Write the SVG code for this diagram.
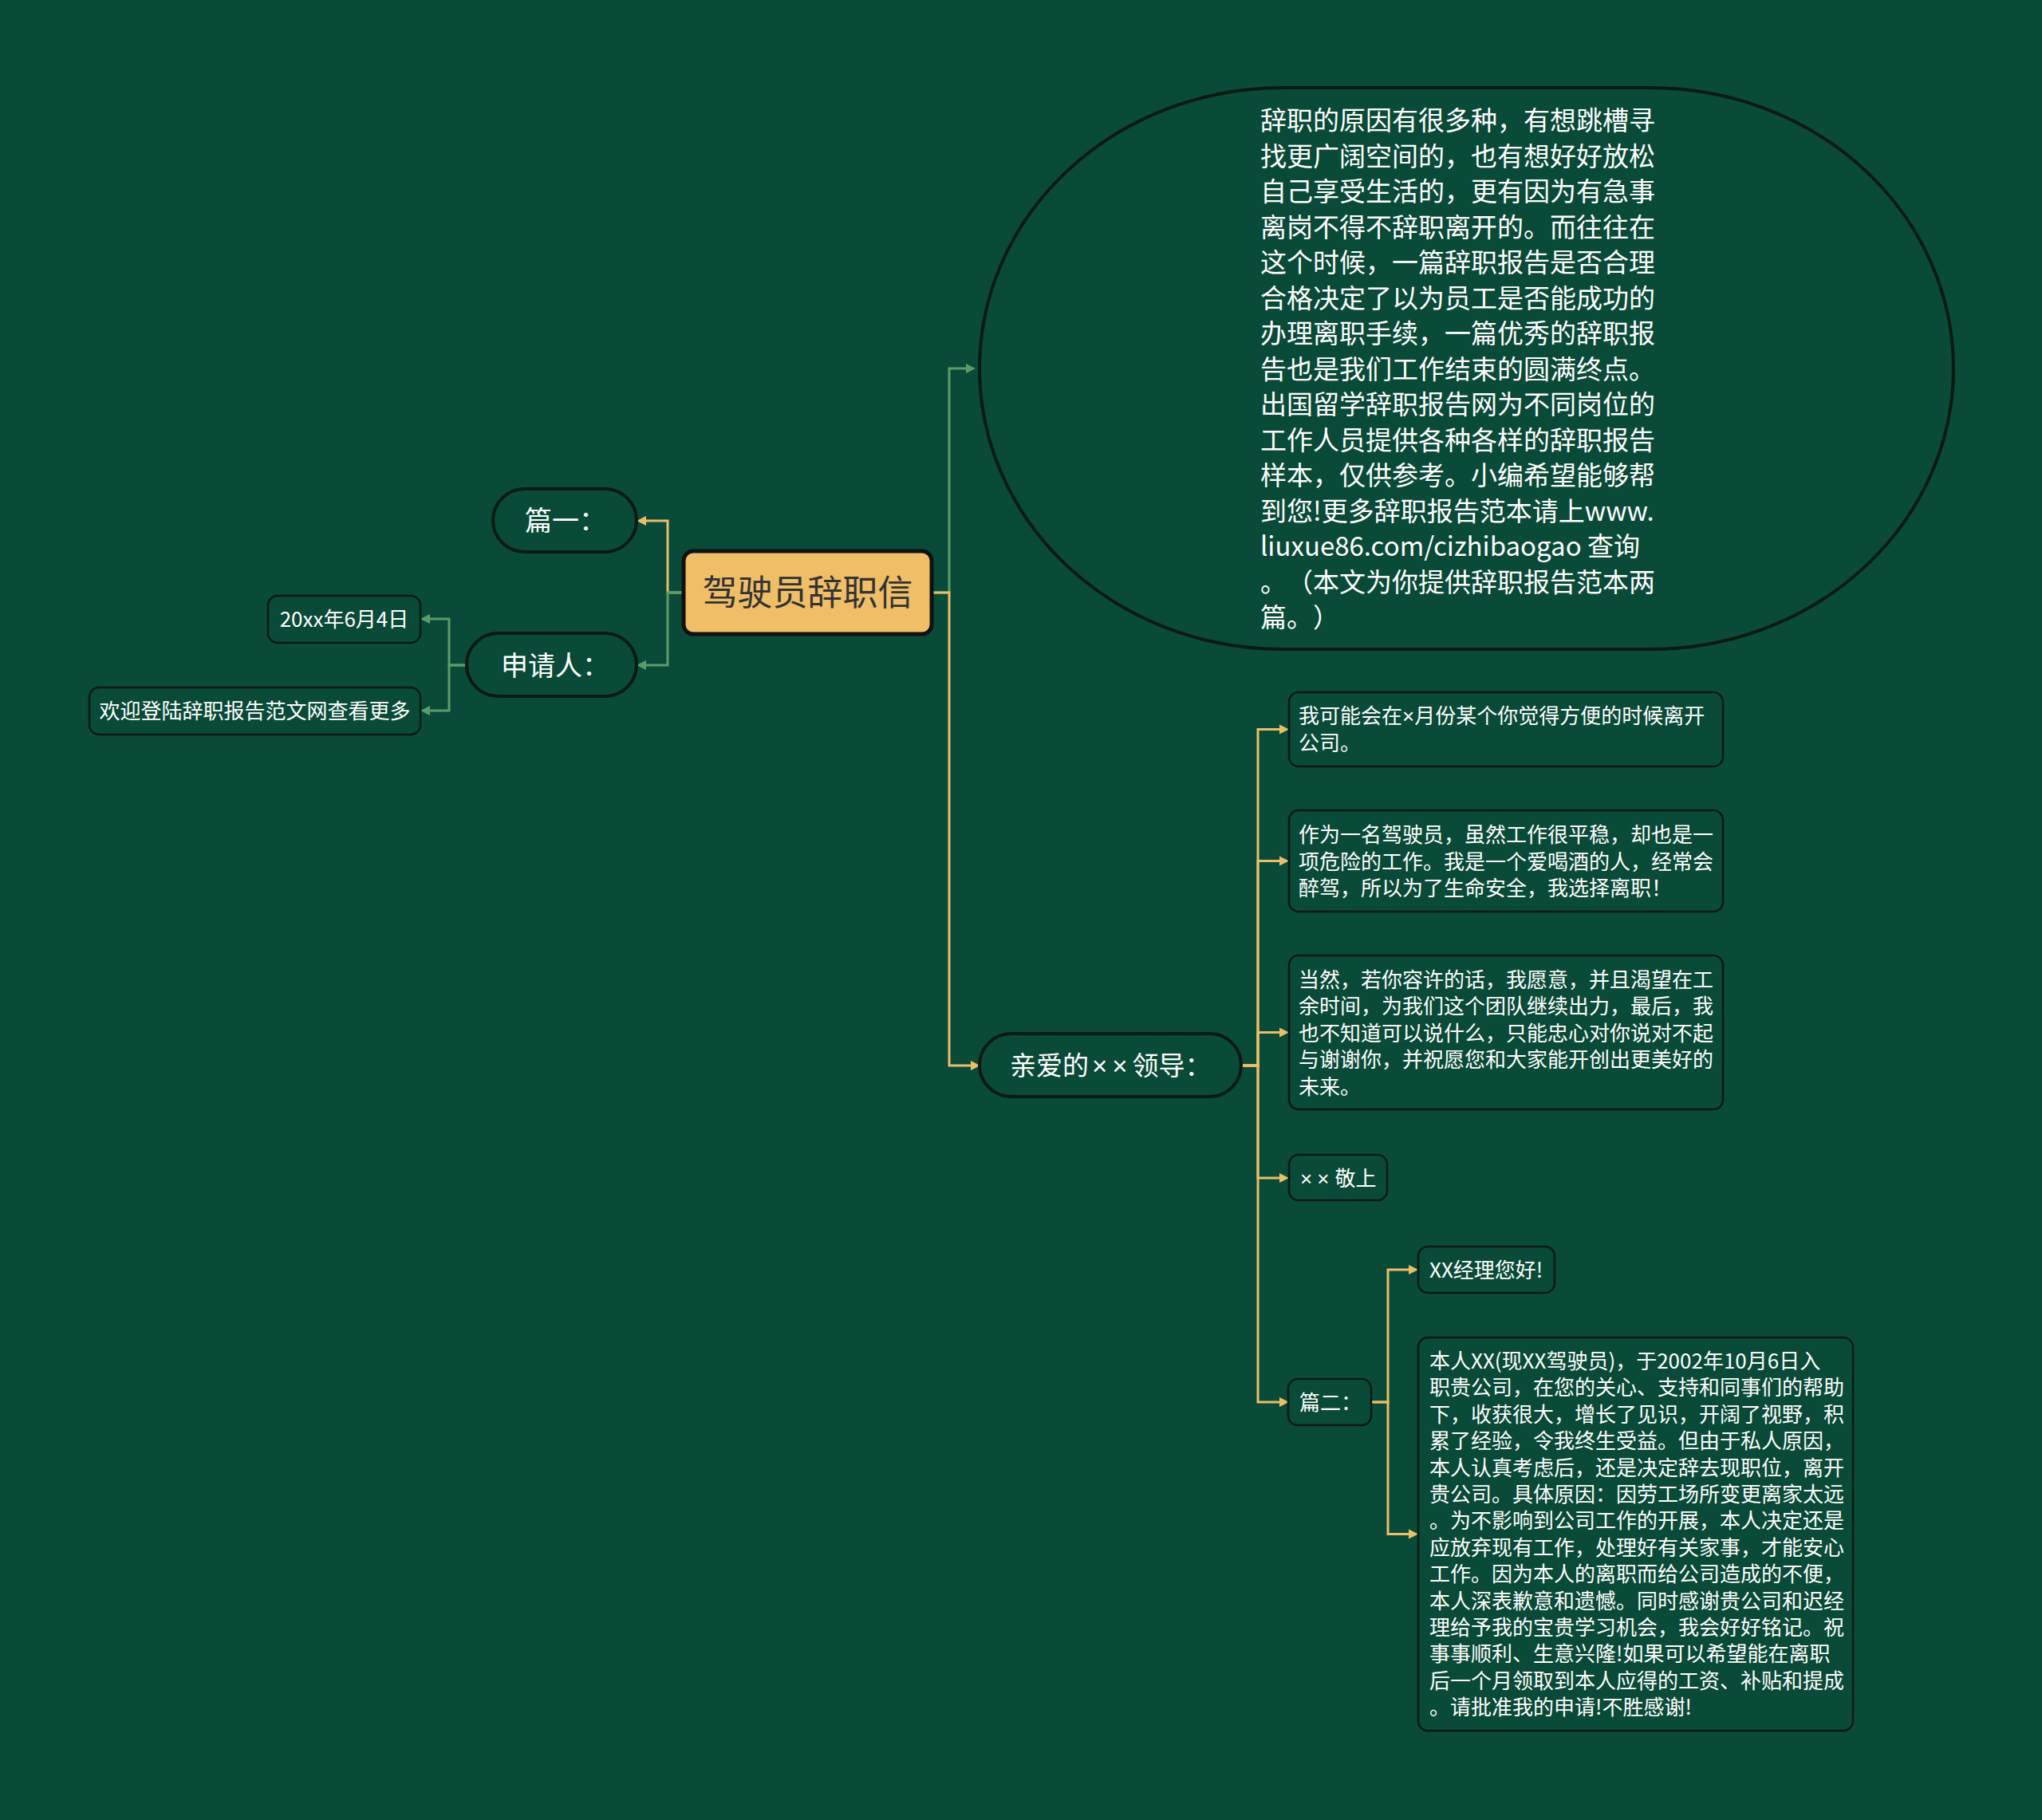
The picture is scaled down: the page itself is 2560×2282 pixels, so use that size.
<svg xmlns="http://www.w3.org/2000/svg" width="2560" height="2282" viewBox="0 0 2560 2282">
<defs>
<style>
.bg{fill:#0A4A38}
.box{fill:#0A4A38;stroke:#0B1A12;stroke-width:2.5}
.pill{fill:#0A4A38;stroke:#0B1A12;stroke-width:4}
.root{fill:#F0BE66;stroke:#111111;stroke-width:5}
.t{font-family:"Noto Sans CJK SC","Noto Sans",sans-serif;fill:#FFFFFF;text-spacing-trim:space-all}
.x{font-family:"Liberation Sans",sans-serif}
.xs{font-family:"Liberation Sans",sans-serif;letter-spacing:6px}
.s26{font-size:26px}
.s33{font-size:33px}
.s34{font-size:34px}
.rt{font-family:"Noto Sans CJK SC","Noto Sans",sans-serif;font-size:44px;fill:#333333}
.cg{fill:none;stroke:#5E9B6A;stroke-width:3}
.cy{fill:none;stroke:#E8BE68;stroke-width:3}
</style>
<marker id="ag" markerUnits="userSpaceOnUse" markerWidth="13" markerHeight="14" refX="0" refY="7" orient="auto" viewBox="0 0 13 14"><path d="M0,1 L12,7 L0,13 z" fill="#5E9B6A"/></marker>
<marker id="ay" markerUnits="userSpaceOnUse" markerWidth="13" markerHeight="14" refX="0" refY="7" orient="auto" viewBox="0 0 13 14"><path d="M0,1 L12,7 L0,13 z" fill="#E8BE68"/></marker>
</defs>
<rect class="bg" x="0" y="0" width="2560" height="2282"/>

<g id="connectors">
<path class="cg" d="M1168,743 H1190 V462 H1211" marker-end="url(#ag)"/>
<path class="cy" d="M1168,743 H1190 V1336 H1217" marker-end="url(#ay)"/>
<path class="cy" d="M857,743 H837 V653 H810" marker-end="url(#ay)"/>
<path class="cg" d="M857,743 H837 V834 H810" marker-end="url(#ag)"/>
<path class="cg" d="M585,834 H563 V776 H539" marker-end="url(#ag)"/>
<path class="cg" d="M585,834 H563 V891 H539" marker-end="url(#ag)"/>
<path class="cy" d="M1556,1336 H1577 V914.5 H1604" marker-end="url(#ay)"/>
<path class="cy" d="M1556,1336 H1577 V1079.5 H1604" marker-end="url(#ay)"/>
<path class="cy" d="M1556,1336 H1577 V1294.5 H1604" marker-end="url(#ay)"/>
<path class="cy" d="M1556,1336 H1577 V1477 H1604" marker-end="url(#ay)"/>
<path class="cy" d="M1556,1336 H1577 V1758 H1604" marker-end="url(#ay)"/>
<path class="cy" d="M1719,1758 H1740 V1592 H1766" marker-end="url(#ay)"/>
<path class="cy" d="M1719,1758 H1740 V1923.5 H1766" marker-end="url(#ay)"/>
</g>

<g id="root">
<rect class="root" x="857" y="691" width="311" height="104" rx="12"/>
<text class="rt" x="1012.5" y="759" text-anchor="middle">驾驶员辞职信</text>
</g>

<g id="intro">
<rect class="pill" x="1228" y="110" width="1221" height="704" rx="380" ry="352"/>
<text class="t s33" x="1580">
<tspan x="1580" y="163">辞职的原因有很多种，有想跳槽寻</tspan>
<tspan x="1580" y="207.5">找更广阔空间的，也有想好好放松</tspan>
<tspan x="1580" y="252">自己享受生活的，更有因为有急事</tspan>
<tspan x="1580" y="296.5">离岗不得不辞职离开的。而往往在</tspan>
<tspan x="1580" y="341">这个时候，一篇辞职报告是否合理</tspan>
<tspan x="1580" y="385.5">合格决定了以为员工是否能成功的</tspan>
<tspan x="1580" y="430">办理离职手续，一篇优秀的辞职报</tspan>
<tspan x="1580" y="474.5">告也是我们工作结束的圆满终点。</tspan>
<tspan x="1580" y="519">出国留学辞职报告网为不同岗位的</tspan>
<tspan x="1580" y="563.5">工作人员提供各种各样的辞职报告</tspan>
<tspan x="1580" y="608">样本，仅供参考。小编希望能够帮</tspan>
<tspan x="1580" y="652.5">到您!更多辞职报告范本请上www.</tspan>
<tspan x="1580" y="697">liuxue86.com/cizhibaogao 查询</tspan>
<tspan x="1580" y="741.5">。（本文为你提供辞职报告范本两</tspan>
<tspan x="1580" y="786">篇。）</tspan>
</text>
</g>

<g id="pian1">
<rect class="pill" x="618" y="613" width="180" height="79" rx="39.5"/>
<text class="t s34" x="658" y="665">篇一：</text>
</g>

<g id="applicant">
<rect class="pill" x="585" y="794" width="213" height="79" rx="39.5"/>
<text class="t s34" x="628" y="847">申请人：</text>
</g>

<g id="date">
<rect class="box" x="336" y="747" width="191" height="59" rx="12"/>
<text class="t s26" x="431.5" y="786" text-anchor="middle">20xx年6月4日</text>
</g>

<g id="welcome">
<rect class="box" x="112" y="862" width="415" height="59" rx="12"/>
<text class="t s26" x="319.5" y="901" text-anchor="middle">欢迎登陆辞职报告范文网查看更多</text>
</g>

<g id="dear">
<rect class="pill" x="1228" y="1296" width="328" height="79" rx="39.5"/>
<text class="t s33" x="1266" y="1348">亲爱的<tspan class="xs" dx="4">××</tspan>领导：</text>
</g>

<g id="c1">
<rect class="box" x="1616" y="868" width="544" height="93" rx="12"/>
<text class="t s26"><tspan x="1628" y="907">我可能会在<tspan class="x">×</tspan>月份某个你觉得方便的时候离开</tspan><tspan x="1628" y="941">公司。</tspan></text>
</g>

<g id="c2">
<rect class="box" x="1616" y="1016" width="544" height="127" rx="12"/>
<text class="t s26"><tspan x="1628" y="1056">作为一名驾驶员，虽然工作很平稳，却也是一</tspan><tspan x="1628" y="1089.5">项危险的工作。我是一个爱喝酒的人，经常会</tspan><tspan x="1628" y="1123">醉驾，所以为了生命安全，我选择离职！</tspan></text>
</g>

<g id="c3">
<rect class="box" x="1616" y="1198" width="544" height="193" rx="12"/>
<text class="t s26"><tspan x="1628" y="1237.5">当然，若你容许的话，我愿意，并且渴望在工</tspan><tspan x="1628" y="1271">余时间，为我们这个团队继续出力，最后，我</tspan><tspan x="1628" y="1304.5">也不知道可以说什么，只能忠心对你说对不起</tspan><tspan x="1628" y="1338">与谢谢你，并祝愿您和大家能开创出更美好的</tspan><tspan x="1628" y="1371.5">未来。</tspan></text>
</g>

<g id="c4">
<rect class="box" x="1616" y="1448" width="123" height="57" rx="12"/>
<text class="t s26" x="1630" y="1487"><tspan class="xs">×</tspan><tspan class="x">× </tspan>敬上</text>
</g>

<g id="pian2">
<rect class="box" x="1615" y="1729" width="104" height="58" rx="12"/>
<text class="t s26" x="1629" y="1768">篇二：</text>
</g>

<g id="manager">
<rect class="box" x="1778" y="1563" width="171" height="58" rx="12"/>
<text class="t s26" x="1792" y="1602">XX经理您好!</text>
</g>

<g id="body2">
<rect class="box" x="1778" y="1677" width="545" height="493" rx="12"/>
<text class="t s26">
<tspan x="1792" y="1716">本人XX(现XX驾驶员)，于2002年10月6日入</tspan>
<tspan x="1792" y="1749.4">职贵公司，在您的关心、支持和同事们的帮助</tspan>
<tspan x="1792" y="1782.8">下，收获很大，增长了见识，开阔了视野，积</tspan>
<tspan x="1792" y="1816.2">累了经验，令我终生受益。但由于私人原因，</tspan>
<tspan x="1792" y="1849.6">本人认真考虑后，还是决定辞去现职位，离开</tspan>
<tspan x="1792" y="1883">贵公司。具体原因：因劳工场所变更离家太远</tspan>
<tspan x="1792" y="1916.4">。为不影响到公司工作的开展，本人决定还是</tspan>
<tspan x="1792" y="1949.8">应放弃现有工作，处理好有关家事，才能安心</tspan>
<tspan x="1792" y="1983.2">工作。因为本人的离职而给公司造成的不便，</tspan>
<tspan x="1792" y="2016.6">本人深表歉意和遗憾。同时感谢贵公司和迟经</tspan>
<tspan x="1792" y="2050">理给予我的宝贵学习机会，我会好好铭记。祝</tspan>
<tspan x="1792" y="2083.4">事事顺利、生意兴隆!如果可以希望能在离职</tspan>
<tspan x="1792" y="2116.8">后一个月领取到本人应得的工资、补贴和提成</tspan>
<tspan x="1792" y="2150.2">。请批准我的申请!不胜感谢!</tspan>
</text>
</g>
</svg>
